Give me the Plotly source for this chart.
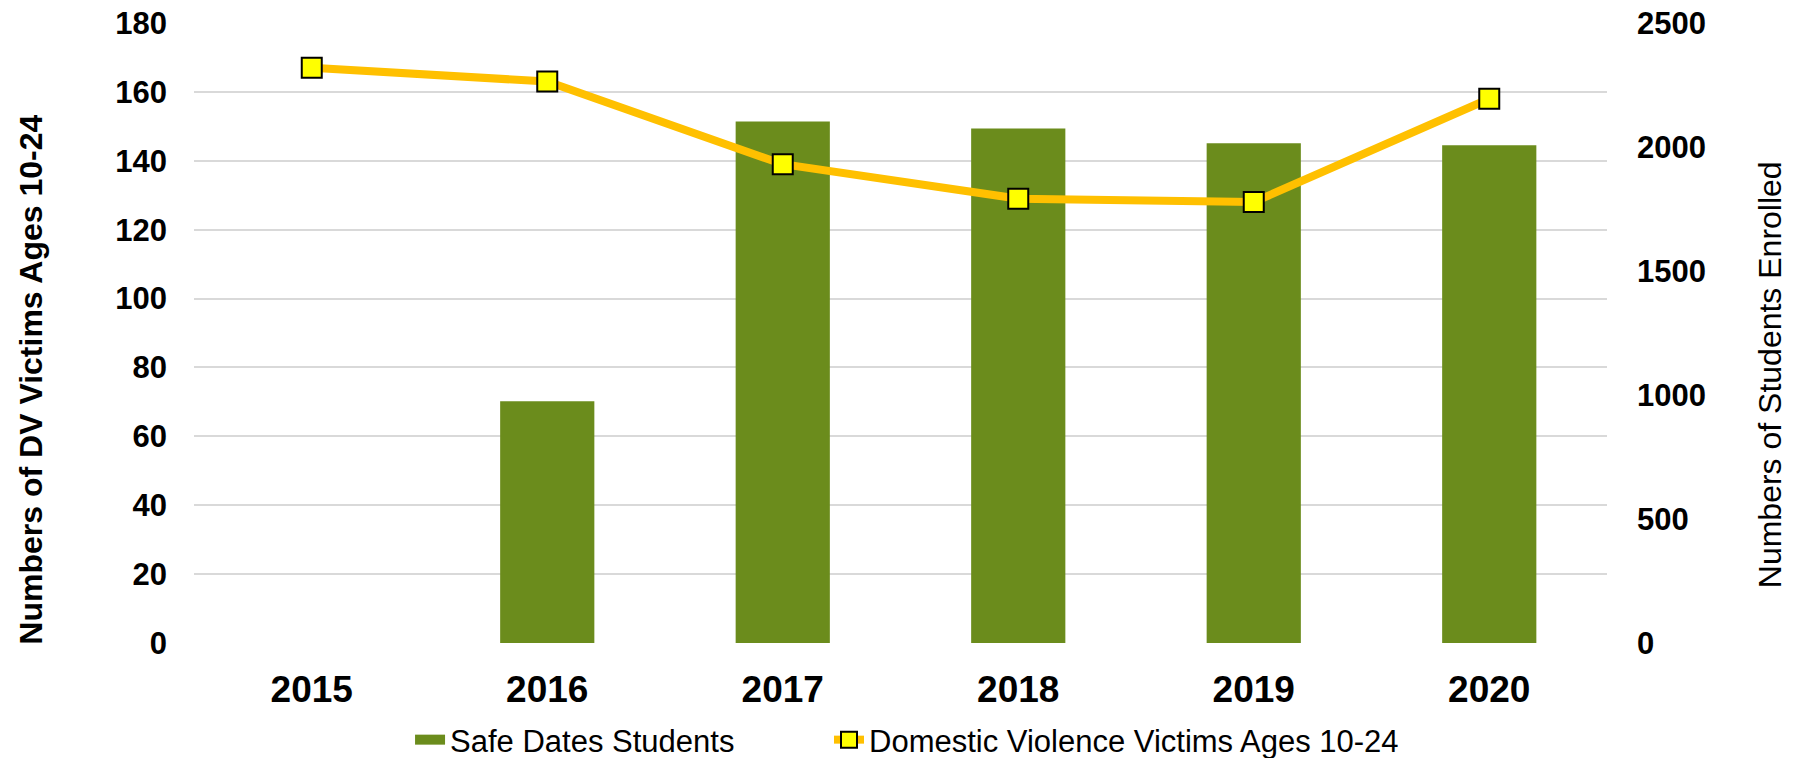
import plotly.graph_objects as go

years = ["2015", "2016", "2017", "2018", "2019", "2020"]
safe_dates_students = [None, 975, 2103, 2075, 2015, 2007]
dv_victims = [167, 163, 139, 129, 128, 158]

left_ticks = [0, 20, 40, 60, 80, 100, 120, 140, 160, 180]
right_ticks = [0, 500, 1000, 1500, 2000, 2500]

FONT = "Liberation Sans, Arial, sans-serif"
GREEN = "#6B8C1C"

fig = go.Figure()
# empty trace anchoring the base (grid) axis
fig.add_trace(go.Scatter(
    x=years, y=[None] * len(years), mode="lines", showlegend=False,
    hoverinfo="skip", yaxis="y",
))
# Bars on right-hand axis (students enrolled)
fig.add_trace(go.Bar(
    x=years, y=safe_dates_students, name="Safe Dates Students",
    marker=dict(color=GREEN, line=dict(width=0)),
    yaxis="y2", showlegend=False,
))
# legend swatch for the bars
fig.add_trace(go.Scatter(
    x=[None], y=[None], name="Safe Dates Students", mode="lines",
    line=dict(color=GREEN, width=17), yaxis="y2", hoverinfo="skip",
    legend="legend",
))
# Line on left-hand axis (DV victims), drawn above bars
fig.add_trace(go.Scatter(
    x=years, y=dv_victims, name="Domestic Violence Victims Ages 10-24",
    mode="lines+markers",
    line=dict(color="#FFC000", width=8),
    marker=dict(symbol="square", size=20, color="#FFFF00",
                line=dict(color="#000000", width=2)),
    yaxis="y3", legend="legend2",
))

legend_common = dict(orientation="h", yref="container", y=0.024, yanchor="middle",
                     xanchor="left", font=dict(size=31, family=FONT),
                     bgcolor="rgba(0,0,0,0)")

fig.update_layout(
    width=1785, height=750,
    margin=dict(l=186, r=186, t=15, b=115, autoexpand=False),
    paper_bgcolor="white", plot_bgcolor="white",
    font=dict(family=FONT, color="#000000"),
    bargap=0.6,
    showlegend=True,
    legend=dict(x=0.1529, **legend_common),
    legend2=dict(x=0.4494, **legend_common),
    xaxis=dict(
        type="category", showgrid=False, zeroline=False, showline=False,
        tickfont=dict(size=37, family=FONT, weight="bold"), ticks="", ticklen=0,
        automargin=False, ticklabelstandoff=21, ticklabeloverflow="allow",
    ),
    yaxis=dict(
        range=[0, 180], tickvals=left_ticks, showgrid=True, gridcolor="#D9D9D9", gridwidth=2,
        zeroline=False, showline=False, ticks="", automargin=False,
        tickfont=dict(size=31, family=FONT, weight="bold"), ticklabelstandoff=26,
        ticklabeloverflow="allow",
    ),
    yaxis2=dict(
        range=[0, 2500], tickvals=right_ticks, overlaying="y", side="right",
        showgrid=False, zeroline=False, showline=False, ticks="", automargin=False,
        tickfont=dict(size=31, family=FONT, weight="bold"), ticklabelstandoff=29,
        ticklabeloverflow="allow",
    ),
    yaxis3=dict(
        range=[0, 180], overlaying="y", side="left", showgrid=False, zeroline=False,
        showline=False, showticklabels=False, ticks="", automargin=False,
    ),
    annotations=[
        dict(text="<b>Numbers of DV Victims Ages 10-24</b>", textangle=-90,
             x=-0.1154, y=0.4247, xref="paper", yref="paper",
             xanchor="center", yanchor="middle", showarrow=False,
             font=dict(size=32, family=FONT)),
        dict(text="Numbers of Students Enrolled", textangle=-90,
             x=1.1154, y=0.432, xref="paper", yref="paper",
             xanchor="center", yanchor="middle", showarrow=False,
             font=dict(size=32, family=FONT)),
    ],
)

fig.write_html("out.html")
